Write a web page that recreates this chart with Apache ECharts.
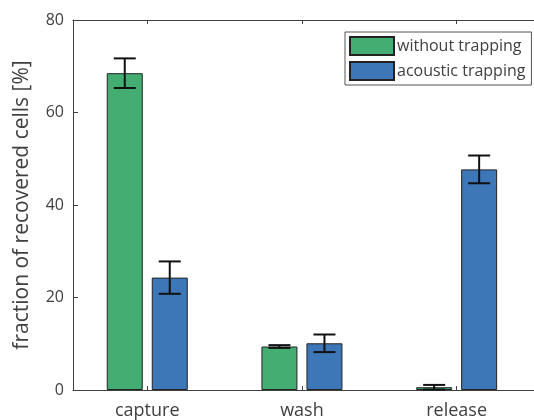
<!DOCTYPE html>
<html>
<head>
<meta charset="utf-8">
<script src="https://cdn.jsdelivr.net/npm/echarts@6/dist/echarts.min.js"></script>
<style>
  html, body { margin: 0; padding: 0; background: #fff; }
  #chart { width: 534px; height: 420px; }
</style>
</head>
<body>
<div id="chart"></div>
<script>
const categories = ['capture', 'wash', 'release'];
const seriesNames = ['without trapping', 'acoustic trapping'];
const withoutTrapping = [68.5, 9.4, 0.6];
const withoutErr = [3.2, 0.3, 0.5];
const acousticTrapping = [24.3, 10.1, 47.7];
const acousticErr = [3.5, 1.9, 3.0];

const green = '#43ad72';
const blue = '#3d77b7';
const textColor = '#404040';
const axisColor = '#404040';
const barW = 36;
const barGapPx = 9;

let element = document.getElementById('chart');
let myChart = echarts.init(element);

const xPos = categories.map((c, i) => i + 1);

function errSeries(name, values, errs, offset) {
  return {
    type: 'custom',
    name: name + ' err',
    xAxisIndex: 0,
    z: 10,
    silent: true,
    data: values.map((v, i) => [xPos[i], v - errs[i], v + errs[i]]),
    renderItem: function (params, api) {
      const lo = api.coord([api.value(0), api.value(1)]);
      const hi = api.coord([api.value(0), api.value(2)]);
      const x = lo[0] + offset;
      const cap = 11;
      const style = { stroke: '#111', lineWidth: 2, fill: null };
      return {
        type: 'group',
        children: [
          { type: 'line', shape: { x1: x, y1: lo[1], x2: x, y2: hi[1] }, style },
          { type: 'line', shape: { x1: x - cap, y1: lo[1], x2: x + cap, y2: lo[1] }, style },
          { type: 'line', shape: { x1: x - cap, y1: hi[1], x2: x + cap, y2: hi[1] }, style }
        ]
      };
    }
  };
}

const off = barW / 2 + barGapPx / 2;

let option = {
  animation: false,
  textStyle: { fontFamily: 'Open Sans' },
  grid: { left: 73, top: 20, right: -1, bottom: 29 },
  legend: {
    orient: 'vertical',
    left: 345,
    top: 32,
    icon: 'rect',
    itemWidth: 44,
    itemHeight: 18,
    itemGap: 5,
    padding: [4, 6, 4, 4],
    borderColor: '#555',
    borderWidth: 1,
    backgroundColor: '#fff',
    data: seriesNames,
    textStyle: { fontFamily: 'Open Sans', fontSize: 16, color: textColor, padding: [0, 0, 0, -2] }
  },
  xAxis: [{
    type: 'value',
    min: 0.52,
    max: 3.5,
    position: 'bottom',
    axisLine: { lineStyle: { color: axisColor } },
    splitLine: { show: false },
    axisTick: { inside: true, length: 4, customValues: xPos, lineStyle: { color: axisColor } },
    axisLabel: {
      customValues: xPos,
      formatter: v => categories[Math.round(v) - 1],
      fontFamily: 'Open Sans',
      fontSize: 18, color: textColor, margin: 12
    }
  }, {
    type: 'value',
    min: 0.52,
    max: 3.5,
    position: 'top',
    axisLine: { show: true, lineStyle: { color: axisColor } },
    splitLine: { show: false },
    axisTick: { inside: true, length: 4, customValues: xPos, lineStyle: { color: axisColor } },
    axisLabel: { show: false }
  }],
  yAxis: {
    type: 'value',
    min: 0,
    max: 80,
    interval: 20,
    name: 'fraction of recovered cells [%]',
    nameLocation: 'middle',
    nameGap: 40,
    nameTextStyle: { fontFamily: 'Open Sans', fontSize: 21, color: textColor },
    axisLine: { show: true, lineStyle: { color: axisColor } },
    splitLine: { show: false },
    axisTick: { show: true, inside: true, length: 5, lineStyle: { color: axisColor } },
    axisLabel: { fontFamily: 'Open Sans', fontSize: 16, color: textColor, margin: 9 }
  },
  series: [{
    type: 'bar',
    name: seriesNames[0],
    barWidth: barW,
    barGap: (barGapPx / barW * 100) + '%',
    itemStyle: { color: green, borderColor: '#222', borderWidth: 1 },
    data: withoutTrapping.map((v, i) => [xPos[i], v])
  }, {
    type: 'bar',
    name: seriesNames[1],
    barWidth: barW,
    barGap: (barGapPx / barW * 100) + '%',
    itemStyle: { color: blue, borderColor: '#222', borderWidth: 1 },
    data: acousticTrapping.map((v, i) => [xPos[i], v])
  },
  errSeries(seriesNames[0], withoutTrapping, withoutErr, -off),
  errSeries(seriesNames[1], acousticTrapping, acousticErr, off)
  ]
};

option && myChart.setOption(option);
</script>
</body>
</html>
